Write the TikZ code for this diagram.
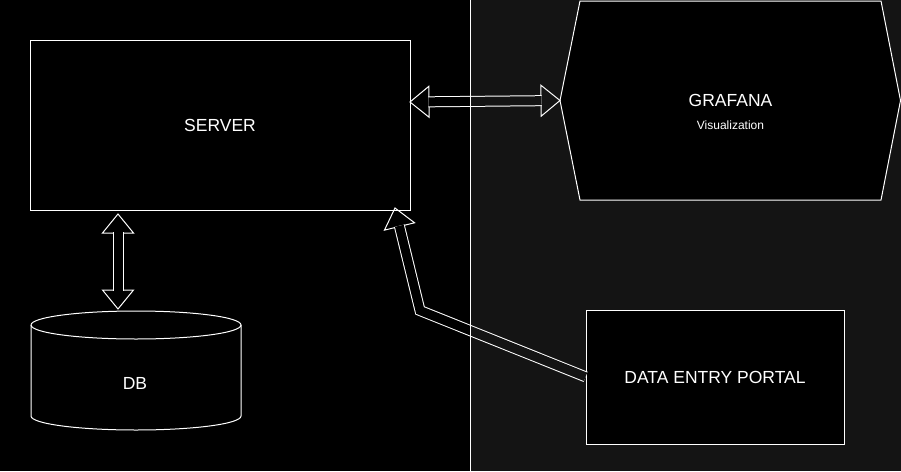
\documentclass[tikz,border=0pt]{standalone}
\usepackage{fontspec}
\setmainfont{Liberation Sans}
\usetikzlibrary{calc}
\definecolor{bggray}{RGB}{20,20,20}

\tikzset{
  box/.style={draw=white, line width=1pt, fill=black, text=white, inner sep=0pt, outer sep=0pt, font=\fontsize{17.5}{21}\selectfont},
  boxtext/.style={text=white, inner sep=0pt, outer sep=0pt, font=\fontsize{17.5}{21}\selectfont},
  subtext/.style={text=white, inner sep=0pt, font=\fontsize{12}{14}\selectfont},
  outline/.style={draw=white, line width=1pt},
  arrowline/.style={draw=white, line width=1pt, line join=miter},
  shaft/.style={draw=white, line width=1pt, double distance=9pt, line join=miter, shorten <=-0.7pt, shorten >=-0.7pt}
}

% open block-arrow head: from, tip, name of its base
\newcommand{\flexhead}[3]{%
  \coordinate (#3) at ($(#2)!19pt!(#1)$);
  \draw[arrowline] (#2) -- ($(#3)!15.5pt!90:(#2)$) -- ($(#3)!15.5pt!-90:(#2)$) -- cycle;
}

\begin{document}
\begin{tikzpicture}[x=1pt, y=-1pt]
  \useasboundingbox (0,0) rectangle (901,471);
  \fill[bggray] (0,0) rectangle (901,471);
  \fill[black]  (0,0) rectangle (470,471);

  % server
  \node[box, minimum width=380pt, minimum height=170pt] (server) at (220,125) {SERVER};

  % database
  \draw[outline, fill=black] (31,325) -- (31,416) arc[start angle=180, end angle=0, x radius=105, y radius=14]
        -- (241,325) arc[start angle=0, end angle=-180, x radius=105, y radius=14] -- cycle;
  \draw[outline] (31,325) arc[start angle=180, end angle=0, x radius=105, y radius=14];
  \node[boxtext] (db) at (135,383) {DB};

  % grafana
  \node[minimum width=301pt, minimum height=199pt, inner sep=0pt, outer sep=0pt] (grafana) at (730.5,100.5) {};
  \coordinate (grafanaW) at ([xshift=-20pt]grafana.west);
  \coordinate (grafanaE) at ([xshift=19.5pt]grafana.east);
  \draw[outline, fill=black] (grafana.north west) -- (grafana.north east) -- (grafanaE)
        -- (grafana.south east) -- (grafana.south west) -- (grafanaW) -- cycle;
  \node[boxtext] (grafanatitle) at (grafana.center) {GRAFANA};
  \node[subtext] (grafanasub) at ([yshift=-25pt]grafana.center) {Visualization};

  % data entry portal
  \node[box, minimum width=258pt, minimum height=134pt] (portal) at (715,377) {DATA ENTRY PORTAL};

  % arrows
  \coordinate (srvR)  at ([yshift=23pt]server.east);
  \coordinate (srvB)  at (118,214);
  \coordinate (dbT)   at (118,309);
  \coordinate (bend)  at (420,310.5);
  \coordinate (srvIn) at (395,208);

  \flexhead{grafanaW}{srvR}{hbA}
  \flexhead{srvR}{grafanaW}{hbB}
  \flexhead{dbT}{srvB}{hbC}
  \flexhead{srvB}{dbT}{hbD}
  \flexhead{bend}{srvIn}{hbE}

  \foreach \xa/\xb/\shaftfill in {0/470/black, 470/901/bggray}{
    \begin{scope}
      \clip (\xa,0) rectangle (\xb,471);
      \draw[shaft, double=\shaftfill] (hbA) -- (hbB);
      \draw[shaft, double=\shaftfill] (hbC) -- (hbD);
      \draw[shaft, double=\shaftfill, shorten <=0.5pt] (portal.west) -- (bend) -- (hbE);
    \end{scope}
  }

  \draw[white, line width=1pt] (470,0) -- (470,471);
\end{tikzpicture}
\end{document}
